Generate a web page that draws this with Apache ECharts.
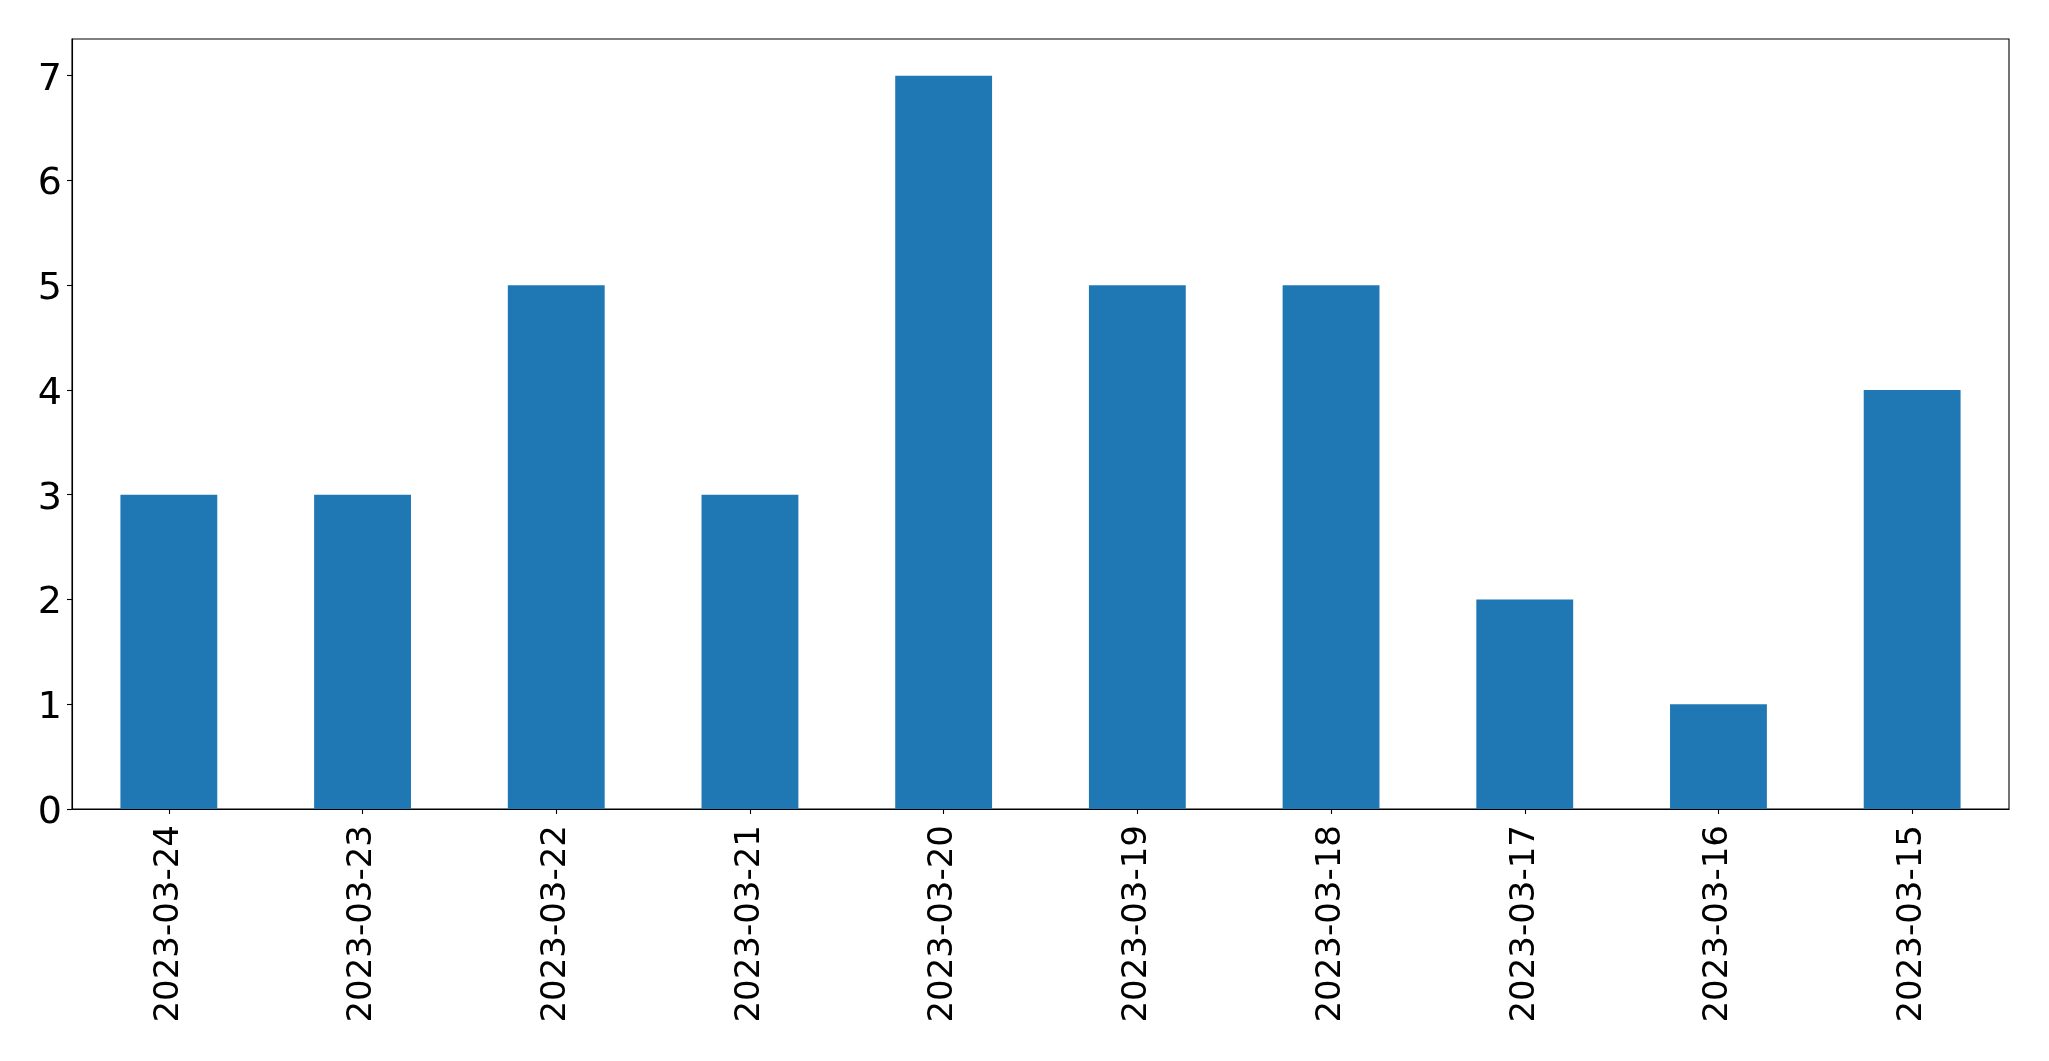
<!DOCTYPE html>
<html>
<head>
<meta charset="utf-8">
<script src="https://cdn.jsdelivr.net/npm/echarts@6/dist/echarts.min.js"></script>
<style>
html,body{margin:0;padding:0;background:#fff;}
#chart{width:2049px;height:1061px;}
</style>
</head>
<body>
<div id="chart"></div>
<script>
const categories = ['2023-03-24','2023-03-23','2023-03-22','2023-03-21','2023-03-20','2023-03-19','2023-03-18','2023-03-17','2023-03-16','2023-03-15'];
const values = [3,3,5,3,7,5,5,2,1,4];
const yTicks = [0,1,2,3,4,5,6,7];

const chart = echarts.init(document.getElementById('chart'), null, {renderer:'canvas'});
const font = 'DejaVu Sans';
chart.setOption({
  animation:false,
  backgroundColor:'#fff',
  grid:{left:72,top:39,width:1937,height:770,show:true,borderColor:'#000',borderWidth:1.1,backgroundColor:'transparent'},
  xAxis:{
    type:'category',
    data:categories,
    boundaryGap:true,
    axisLine:{show:true,lineStyle:{color:'#000',width:1.1}},
    axisTick:{show:true,alignWithLabel:true,length:5,lineStyle:{color:'#000',width:1.1}},
    axisLabel:{rotate:90,margin:16,fontFamily:font,fontSize:34,color:'#000',interval:0},
    splitLine:{show:false}
  },
  yAxis:{
    type:'value',
    min:0,max:7.35,interval:1,
    axisLine:{show:true,lineStyle:{color:'#000',width:1.1}},
    axisTick:{show:true,length:5,lineStyle:{color:'#000',width:1.1},customValues:yTicks},
    axisLabel:{margin:10,fontFamily:font,fontSize:38,color:'#000',customValues:yTicks,
      formatter:'{v|{value}}',
      rich:{v:{fontFamily:font,fontSize:38,color:'#000',padding:[8,0,0,0]}}},
    splitLine:{show:false}
  },
  series:[{
    type:'bar',
    data:values,
    barWidth:'50%',
    itemStyle:{color:'#1f77b4'}
  }]
});
</script>
</body>
</html>
